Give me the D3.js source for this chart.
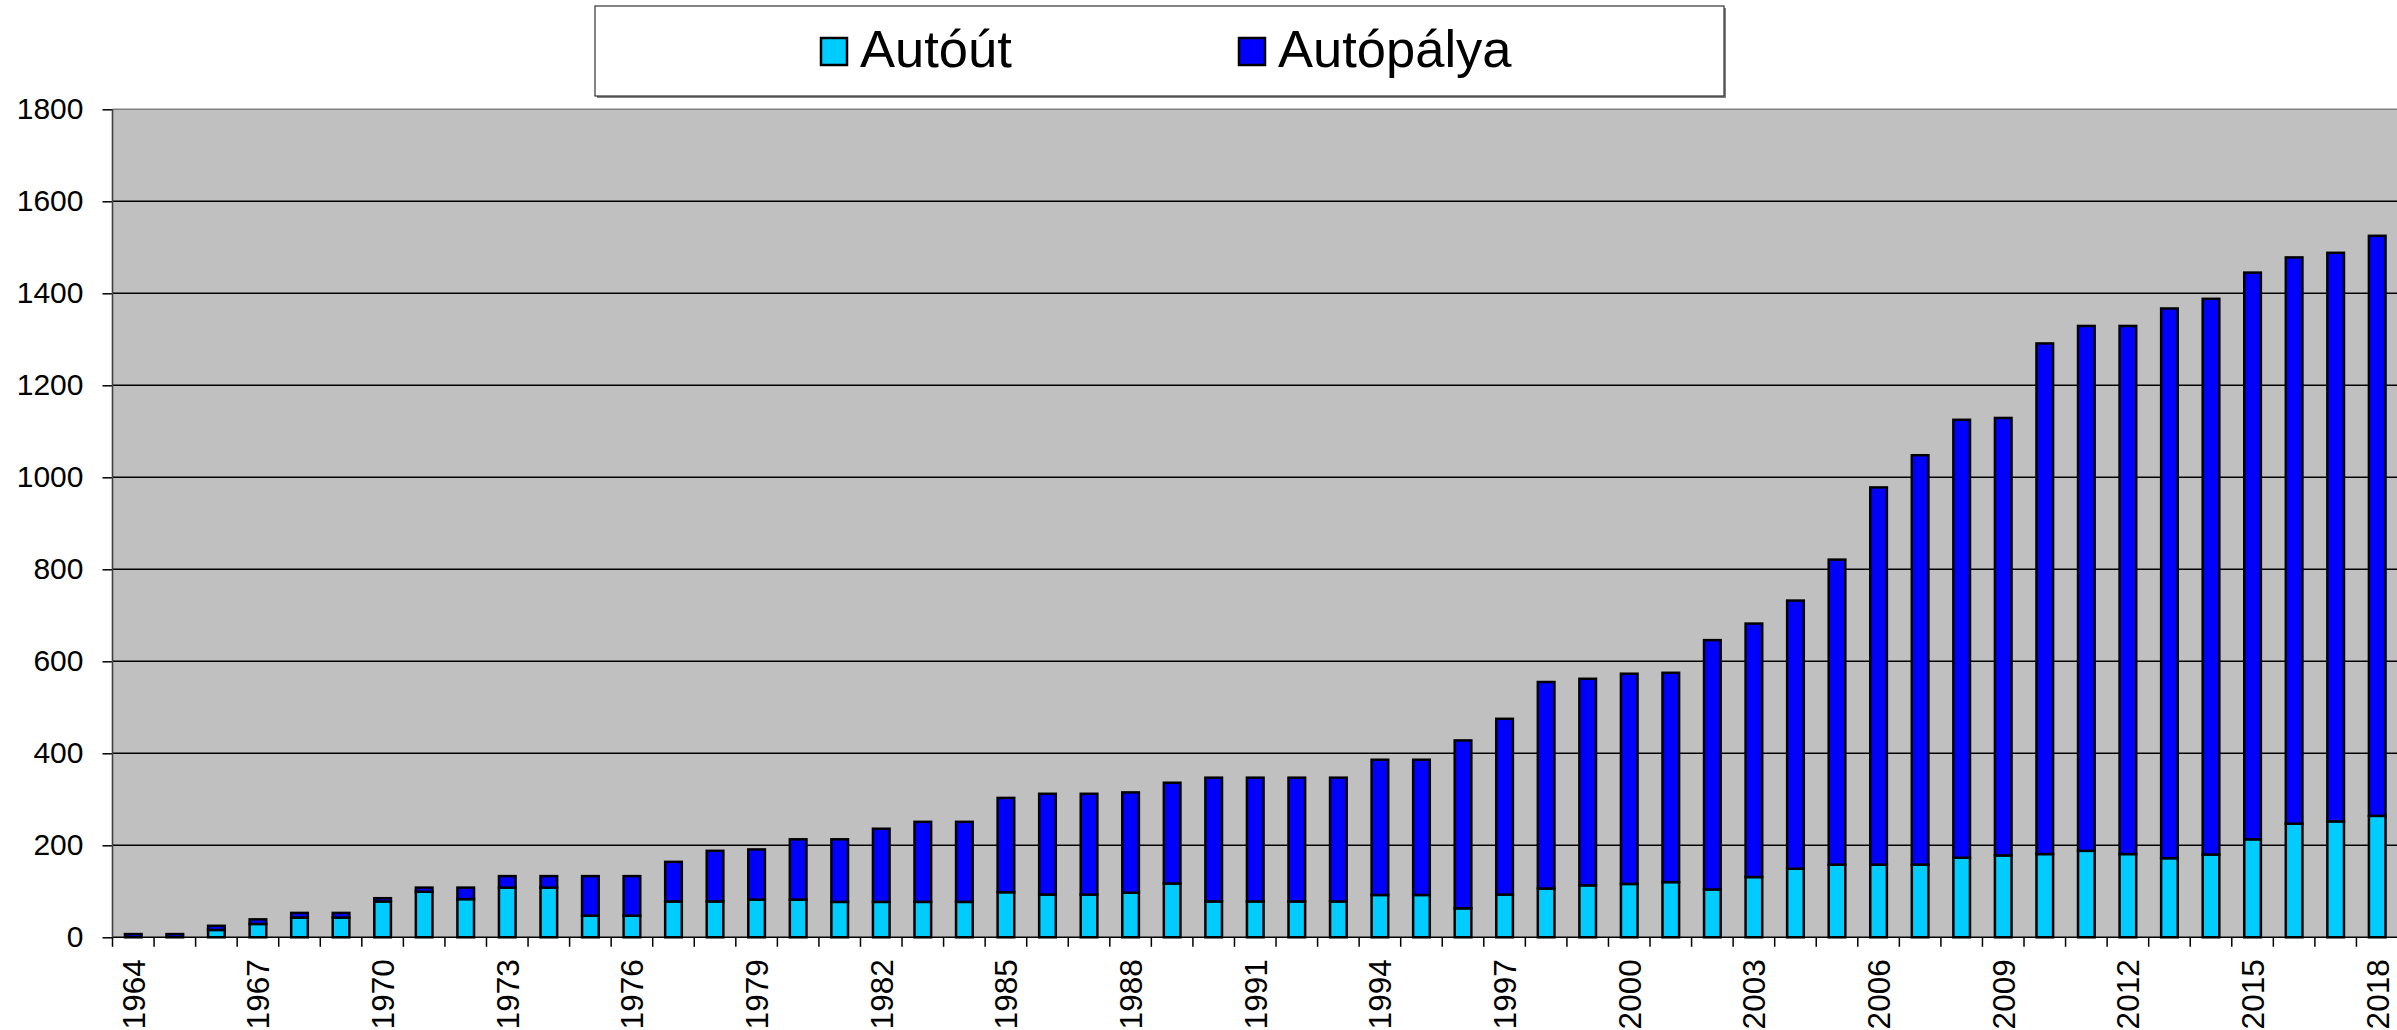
<!DOCTYPE html>
<html>
<head>
<meta charset="utf-8">
<script src="https://cdn.jsdelivr.net/npm/d3@7"></script>
<style>
    body { margin: 0; background: #fff; }
    svg { display: block; font-family: "Liberation Sans", Arial, sans-serif; }
</style>
</head>
<body>
<div id="plot"></div>
<script>
// Data: lengths in km per year.
var years = ["1964","1965","1966","1967","1968","1969","1970","1971","1972","1973","1974","1975","1976","1977","1978","1979",
    "1980","1981","1982","1983","1984","1985","1986","1987","1988","1989","1990","1991","1992","1993","1994","1995","1996",
    "1997","1998","1999","2000","2001","2002","2003","2004","2005","2006","2007","2008","2009","2010","2011","2012","2013",
    "2014","2015","2016","2017","2018"];

var autout = [0,0,16,29,43,43,78,99,83,108,108,47,47,78,78,82,
    82,77,77,77,77,98,93,93,97,117,78,78,78,78,92,92,63,
    93,106,113,116,120,104,131,149,158,158,158,173,178,181,188,181,172,
    180,213,247,252,264];

var autopalya = [7,7,9,10,10,10,7,9,25,25,25,86,86,86,110,109,
    131,136,159,174,174,205,219,219,218,219,269,269,269,269,294,294,365,
    382,449,449,457,455,542,551,583,663,820,890,952,951,1110,1141,1148,1195,
    1208,1232,1231,1236,1261];

var seriesNames = ["Autóút", "Autópálya"];
var seriesColors = ["#00ccff", "#0000ff"];
var yTicks = [0,200,400,600,800,1000,1200,1400,1600,1800];
var labelYears = years.filter(function(d, i){ return i % 3 === 0; });

function drawChart(container){
    var width = 2397, height = 1030;
    var left = 112.5, right = 2398, top = 109.3, bottom = 937.3;

    var svg = d3.select(container)
        .append("svg")
        .attr("width", width)
        .attr("height", height);

    var rows = years.map(function(y, i){
        return {year: y, autout: autout[i], autopalya: autopalya[i]};
    });
    var stacked = d3.stack().keys(["autout", "autopalya"])(rows);

    // Scales
    var xBand = d3.scaleBand().domain(years).range([left, right]).padding(0);
    var x = d3.scaleBand().domain(years).range([left, right])
        .paddingInner(0.6).paddingOuter(0.3);
    var y = d3.scaleLinear().domain([0, 1800]).range([bottom, top]);

    // Plot background
    svg.append("rect")
        .attr("x", left).attr("y", top)
        .attr("width", width - left).attr("height", bottom - top)
        .style("fill", "#c0c0c0");

    // Gridlines
    svg.append("g")
        .selectAll("line")
        .data(yTicks.filter(function(d){ return d > 0; }))
        .enter()
        .append("line")
        .attr("x1", left).attr("x2", width)
        .attr("y1", function(d){ return y(d); })
        .attr("y2", function(d){ return y(d); })
        .style("stroke", function(d){ return d === 1800 ? "#808080" : "#000"; })
        .style("stroke-width", 1.6);

    // Y axis
    var yAxis = svg.append("g")
        .attr("transform", "translate(" + left + ",0)")
        .call(d3.axisLeft(y).tickValues(yTicks).tickFormat(d3.format("d"))
            .tickSize(10).tickPadding(19));
    yAxis.select(".domain").remove();
    yAxis.selectAll("line").style("stroke", "#000").style("stroke-width", 1.5);
    yAxis.selectAll("text")
        .style("font-size", "30px")
        .style("fill", "#000");

    // Boundary ticks under the x axis
    var edges = years.map(function(d){ return xBand(d); });
    svg.append("g")
        .selectAll("line")
        .data(edges)
        .enter()
        .append("line")
        .attr("x1", function(d){ return d; })
        .attr("x2", function(d){ return d; })
        .attr("y1", bottom).attr("y2", bottom + 9.5)
        .style("stroke", "#000")
        .style("stroke-width", 1.5);

    // X labels, every third year
    var xAxis = svg.append("g")
        .attr("transform", "translate(0," + bottom + ")")
        .call(d3.axisBottom(xBand).tickValues(labelYears).tickSize(0));
    xAxis.select(".domain").remove();
    xAxis.selectAll("text")
        .attr("transform", "rotate(-90)")
        .attr("x", -22)
        .attr("y", 0)
        .attr("dy", "0.36em")
        .style("text-anchor", "end")
        .style("font-size", "31.5px")
        .style("fill", "#000");

    // Stacked bars
    svg.append("g")
        .selectAll("g")
        .data(stacked)
        .enter()
        .append("g")
        .style("fill", function(d, i){ return seriesColors[i]; })
        .selectAll("rect")
        .data(function(d){ return d; })
        .enter()
        .append("rect")
        .attr("x", function(d){ return x(d.data.year); })
        .attr("width", x.bandwidth())
        .attr("y", function(d){ return y(d[1]); })
        .attr("height", function(d){ return y(d[0]) - y(d[1]); })
        .style("stroke", "#000")
        .style("stroke-width", 2.5);

    // Axis lines
    svg.append("line")
        .attr("x1", left).attr("x2", width)
        .attr("y1", bottom).attr("y2", bottom)
        .style("stroke", "#000").style("stroke-width", 1.6);
    svg.append("line")
        .attr("x1", left).attr("x2", left)
        .attr("y1", top).attr("y2", bottom)
        .style("stroke", "#404040").style("stroke-width", 1.6);

    // Legend box
    var legend = svg.append("g");
    legend.append("rect")
        .attr("x", 597).attr("y", 8)
        .attr("width", 1129).attr("height", 90)
        .style("fill", "#808080");
    legend.append("rect")
        .attr("x", 595).attr("y", 6)
        .attr("width", 1129).attr("height", 90)
        .style("fill", "#fff")
        .style("stroke", "#333")
        .style("stroke-width", 1.2);

    var itemX = [821, 1239];
    legend.selectAll(".key")
        .data(seriesNames)
        .enter()
        .append("rect")
        .attr("class", "key")
        .attr("x", function(d, i){ return itemX[i]; })
        .attr("y", 38)
        .attr("width", 26).attr("height", 27)
        .style("fill", function(d, i){ return seriesColors[i]; })
        .style("stroke", "#000")
        .style("stroke-width", 2.5);
    legend.selectAll(".name")
        .data(seriesNames)
        .enter()
        .append("text")
        .attr("class", "name")
        .attr("x", function(d, i){ return itemX[i] + 39; })
        .attr("y", 67)
        .style("font-size", "52.5px")
        .style("fill", "#000")
        .text(function(d){ return d; });
}

drawChart("#plot");
</script>
</body>
</html>
